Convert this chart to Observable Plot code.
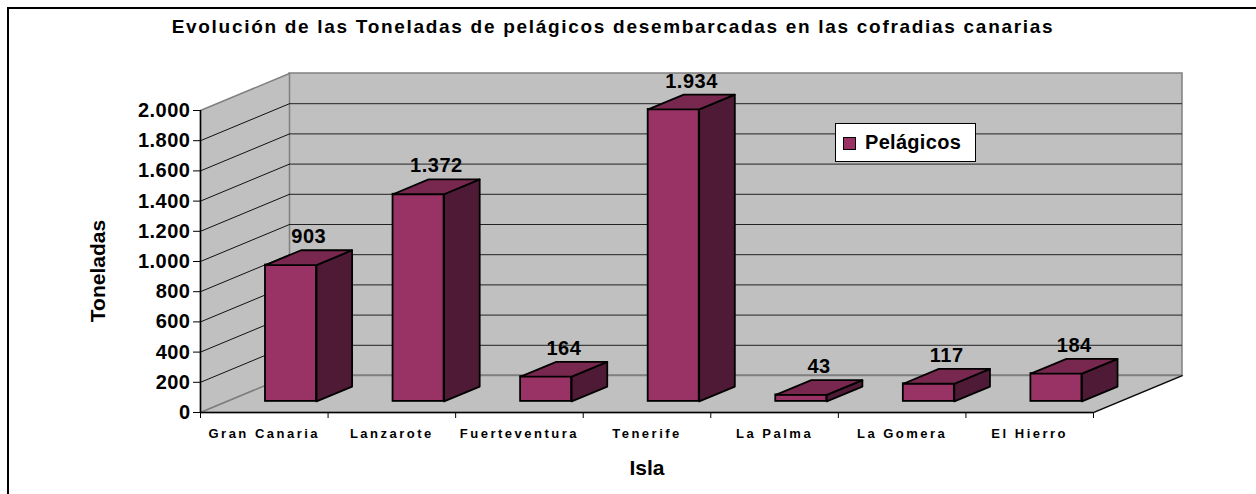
<!DOCTYPE html>
<html><head><meta charset="utf-8">
<script src="https://cdn.jsdelivr.net/npm/d3@7"></script>
<script src="https://cdn.jsdelivr.net/npm/@observablehq/plot@0.6"></script>
<style>
html,body{margin:0;padding:0;width:1256px;height:494px;overflow:hidden;background:#fff;font-family:"Liberation Sans",Arial,sans-serif;}
#frame{position:absolute;left:7px;top:7px;width:1300px;height:600px;border-left:2px solid #000;border-top:2px solid #000;}
#title{position:absolute;left:0;width:1226px;top:16px;text-align:center;font-weight:bold;font-size:19px;letter-spacing:1.7px;color:#000;}
#chart{position:absolute;left:0;top:50px;}
#legend{position:absolute;left:835px;top:123px;width:139px;height:37px;border:1px solid #000;background:#fff;}
#legend .sw{position:absolute;left:7px;top:13px;width:11px;height:11px;border:1px solid #000;background:#993366;}
#legend .lb{position:absolute;left:29px;top:0;line-height:37px;font-size:20px;font-weight:bold;letter-spacing:0.3px;}
</style></head><body>
<div id="frame"></div>
<div id="title">Evolución de las Toneladas de pelágicos desembarcadas en las cofradias canarias</div>
<div id="chart"></div>
<div id="legend"><div class="sw"></div><div class="lb">Pelágicos</div></div>
<script>
const islas = ["Gran Canaria","Lanzarote","Fuerteventura","Tenerife","La Palma","La Gomera","El Hierro"];
const toneladas = [903, 1372, 164, 1934, 43, 117, 184];
const yTicks = [0, 200, 400, 600, 800, 1000, 1200, 1400, 1600, 1800, 2000];
const serie = "Pelágicos";

// 3D depth projection, expressed in scale units
const DX = 0.6977;   // depth shift along x (category units)
const DY = 245;      // depth shift along y (tonnes)
const D0 = 0.3, D1 = 0.7, HW = 0.2;
const X0 = -0.5, X1 = islas.length - 0.5, YMAX = 2000;

const bars = islas.map((isla, i) => ({isla, i, v: toneladas[i]}));
const poly = (id, pts) => pts.concat([pts[0]]).map(([x, y]) => ({id, x, y}));

const sideWall = poly("side", [[X0, 0], [X0, YMAX], [X0 + DX, YMAX + DY], [X0 + DX, DY]]);
const floor = poly("floor", [[X0, 0], [X1, 0], [X1 + DX, DY], [X0 + DX, DY]]);
const bx = (D1 - D0) * DX, by = (D1 - D0) * DY;
const tops = bars.flatMap(d => {
  const xL = d.i - HW + D0 * DX, xR = d.i + HW + D0 * DX, T = d.v + D0 * DY;
  return poly(d.i, [[xL, T], [xR, T], [xR + bx, T + by], [xL + bx, T + by]]);
});
const sides = bars.flatMap(d => {
  const xR = d.i + HW + D0 * DX, T = d.v + D0 * DY, B = D0 * DY;
  return poly(d.i, [[xR, B], [xR, T], [xR + bx, T + by], [xR + bx, B + by]]);
});
const grid = yTicks.filter(v => v > 0 && v < YMAX);
const fmt = v => d3.format(",")(v).replace(/,/g, ".");

const chart = Plot.plot({
  width: 1256, height: 444,
  marginLeft: 200, marginRight: 74, marginTop: 23, marginBottom: 82,
  style: {fontFamily: '"Liberation Sans", Arial, sans-serif', fontSize: "20px", fontWeight: "bold", color: "#000", background: "transparent"},
  x: {type: "linear", domain: [X0, X1 + DX], axis: null},
  y: {domain: [0, YMAX + DY], axis: null},
  marks: [
    // walls
    Plot.rect([0], {x1: () => X0 + DX, x2: () => X1 + DX, y1: () => DY, y2: () => YMAX + DY, fill: "#c0c0c0", stroke: "#808080", strokeWidth: 1.5}),
    Plot.line(sideWall, {x: "x", y: "y", z: "id", fill: "#c0c0c0", stroke: "#808080", strokeWidth: 1.5}),
    Plot.line(floor, {x: "x", y: "y", z: "id", fill: "#c0c0c0", stroke: "#808080", strokeWidth: 1.5}),
    // gridlines
    Plot.ruleY(grid, {y: v => v + DY, x1: () => X0 + DX, x2: () => X1 + DX, stroke: "#222", strokeWidth: 1}),
    Plot.link(grid, {x1: () => X0, y1: v => v, x2: () => X0 + DX, y2: v => v + DY, stroke: "#111", strokeWidth: 1}),
    // floor front/right edges and y axis line
    Plot.ruleY([0], {x1: () => X0, x2: () => X1, stroke: "#000", strokeWidth: 1.5}),
    Plot.link([0], {x1: () => X1, y1: () => 0, x2: () => X1 + DX, y2: () => DY, stroke: "#000", strokeWidth: 1.2}),
    Plot.ruleX([X0], {y1: () => 0, y2: () => YMAX, stroke: "#000", strokeWidth: 1.5}),
    // bars
    Plot.rect(bars, {x1: d => d.i - HW + D0 * DX, x2: d => d.i + HW + D0 * DX, y1: () => D0 * DY, y2: d => d.v + D0 * DY, fill: "#993366", stroke: "#000", strokeWidth: 1.8}),
    Plot.line(sides, {x: "x", y: "y", z: "id", fill: "#4f1a35", stroke: "#000", strokeWidth: 1.8}),
    Plot.line(tops, {x: "x", y: "y", z: "id", fill: "#78284f", stroke: "#000", strokeWidth: 1.8}),
    // data labels
    Plot.text(bars, {x: d => d.i + 0.5 * DX, y: d => d.v + D1 * DY, text: d => fmt(d.v), dy: -7, lineAnchor: "bottom", fontSize: 20, fontWeight: "bold", fill: "#000"}),
    // axes
    Plot.axisY(yTicks, {x: () => X0, anchor: "left", tickSize: 7, tickPadding: 3, tickFormat: fmt, fontSize: 20, label: null, stroke: "#000"}),
    Plot.axisX(d3.range(islas.length + 1).map(k => k - 0.5), {anchor: "bottom", tickSize: 6, tickFormat: () => "", label: null, stroke: "#000"}),
    Plot.text(bars, {x: "i", y: () => 0, text: "isla", dy: 21, fontSize: 13, fontWeight: "bold", fill: "#000"}),
    Plot.text(["Isla"], {x: () => (X0 + X1) / 2, y: () => 0, dy: 56, fontSize: 21, fontWeight: "bold", fill: "#000"}),
    Plot.text(["Toneladas"], {frameAnchor: "left", textAnchor: "middle", rotate: -90, dx: -102, dy: 28, fontSize: 21, fontWeight: "bold", fill: "#000"})
  ]
});
document.getElementById("chart").appendChild(chart);
d3.select(chart).selectAll("text")
  .filter(function () { return islas.includes(this.textContent); })
  .attr("letter-spacing", "2.5px");
d3.select(chart).selectAll("text")
  .filter(function () { return /^[\d.]+$/.test(this.textContent); })
  .attr("letter-spacing", "0.5px");
</script>
</body></html>
